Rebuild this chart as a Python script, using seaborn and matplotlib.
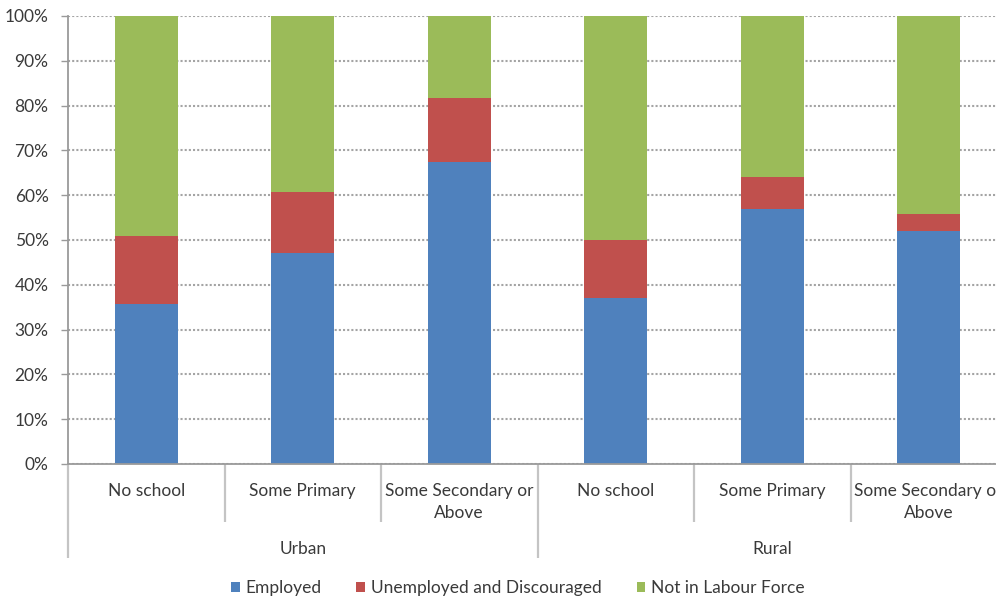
import matplotlib
matplotlib.use("Agg")
import matplotlib.pyplot as plt
from matplotlib.patches import Patch
import seaborn as sns
import pandas as pd
import numpy as np

# Labour force status by education level, urban vs rural (percent of group)
areas = ["Urban", "Rural"]
education = ["No school", "Some Primary", "Some Secondary or\nAbove"]
employed = [35.8, 47.0, 67.4, 37.0, 56.9, 51.9]
unemployed = [15.0, 13.7, 14.2, 12.9, 7.2, 3.8]
not_in_lf = [49.2, 39.3, 18.4, 50.1, 35.9, 44.3]
series_names = ["Employed", "Unemployed and Discouraged", "Not in Labour Force"]
colors = ["#4F81BD", "#C0504D", "#9BBB59"]
yticks = [0, 10, 20, 30, 40, 50, 60, 70, 80, 90, 100]

sns.set_theme(style="white")
plt.rcParams["font.family"] = ["Lato", "DejaVu Sans"]
text_color = "#3a3a3a"
fs = 12.5

keys = [f"{a}|{e}" for a in areas for e in education]
df = pd.DataFrame({
    "key": keys,
    "employed": employed,
    "unemployed": unemployed,
    "not_in_lf": not_in_lf,
})
# stacked tops for each segment
df["top_emp"] = df["employed"]
df["top_unemp"] = df["employed"] + df["unemployed"]
df["top_all"] = df["top_unemp"] + df["not_in_lf"]

W, H = 996, 601
fig = plt.figure(figsize=(W / 100, H / 100), dpi=100)
left_px, right_px, top_px, bot_px = 68, 1007, 16, 464
ax = fig.add_axes([left_px / W, (H - bot_px) / H,
                   (right_px - left_px) / W, (bot_px - top_px) / H])

for col, c in zip(["top_all", "top_unemp", "top_emp"], colors[::-1]):
    sns.barplot(data=df, x="key", y=col, color=c, saturation=1, width=0.4,
                linewidth=0, ax=ax, order=keys)

ax.set_ylim(0, 100)
ax.set_xlim(-0.5, len(keys) - 0.5)
ax.set_yticks(yticks)
ax.set_yticklabels([f"{v}%" for v in yticks], fontsize=fs, color=text_color)
ax.set_xticks([])
ax.set_xlabel("")
ax.set_ylabel("")
ax.set_axisbelow(True)
ax.yaxis.grid(True, color="#a4a4a4", linestyle=(0, (1, 1)), linewidth=1.5)
ax.xaxis.grid(False)
ax.tick_params(axis="y", length=5, width=1, color="#9a9a9a", pad=9, left=True)

for side in ["top", "right"]:
    ax.spines[side].set_visible(False)
for side in ["left", "bottom"]:
    ax.spines[side].set_color("#9a9a9a")
    ax.spines[side].set_linewidth(1.3)

# category separators and labels below the axis
trans = ax.get_xaxis_transform()
px = 1.0 / (bot_px - top_px)
inner_y = -(522 - bot_px) * px
outer_y = -(558 - bot_px) * px
n = len(keys)
for b in range(n + 1):
    x = b - 0.5
    yend = outer_y if b % len(education) == 0 else inner_y
    ax.plot([x, x], [0, yend], transform=trans, color="#c4c4c4", lw=1.6,
            clip_on=False, solid_capstyle="butt")

for i, k in enumerate(keys):
    lab = k.split("|")[1]
    ax.text(i, -(483 - bot_px) * px, lab, transform=trans, ha="center", va="top",
            fontsize=fs, color=text_color, linespacing=1.5)

for g, a in enumerate(areas):
    cx = g * len(education) + (len(education) - 1) / 2
    ax.text(cx, -(549 - bot_px) * px, a, transform=trans, ha="center",
            va="center", fontsize=fs, color=text_color)

handles = [Patch(facecolor=c, edgecolor="none", label=s)
           for c, s in zip(colors, series_names)]
leg = fig.legend(handles=handles, loc="center", bbox_to_anchor=(518 / W, 1 - 588 / H),
                 ncol=3, frameon=False, fontsize=fs, handlelength=0.5,
                 handleheight=0.5, handletextpad=0.35, columnspacing=2.0)
for t in leg.get_texts():
    t.set_color(text_color)

fig.savefig("out.png", dpi=100)
